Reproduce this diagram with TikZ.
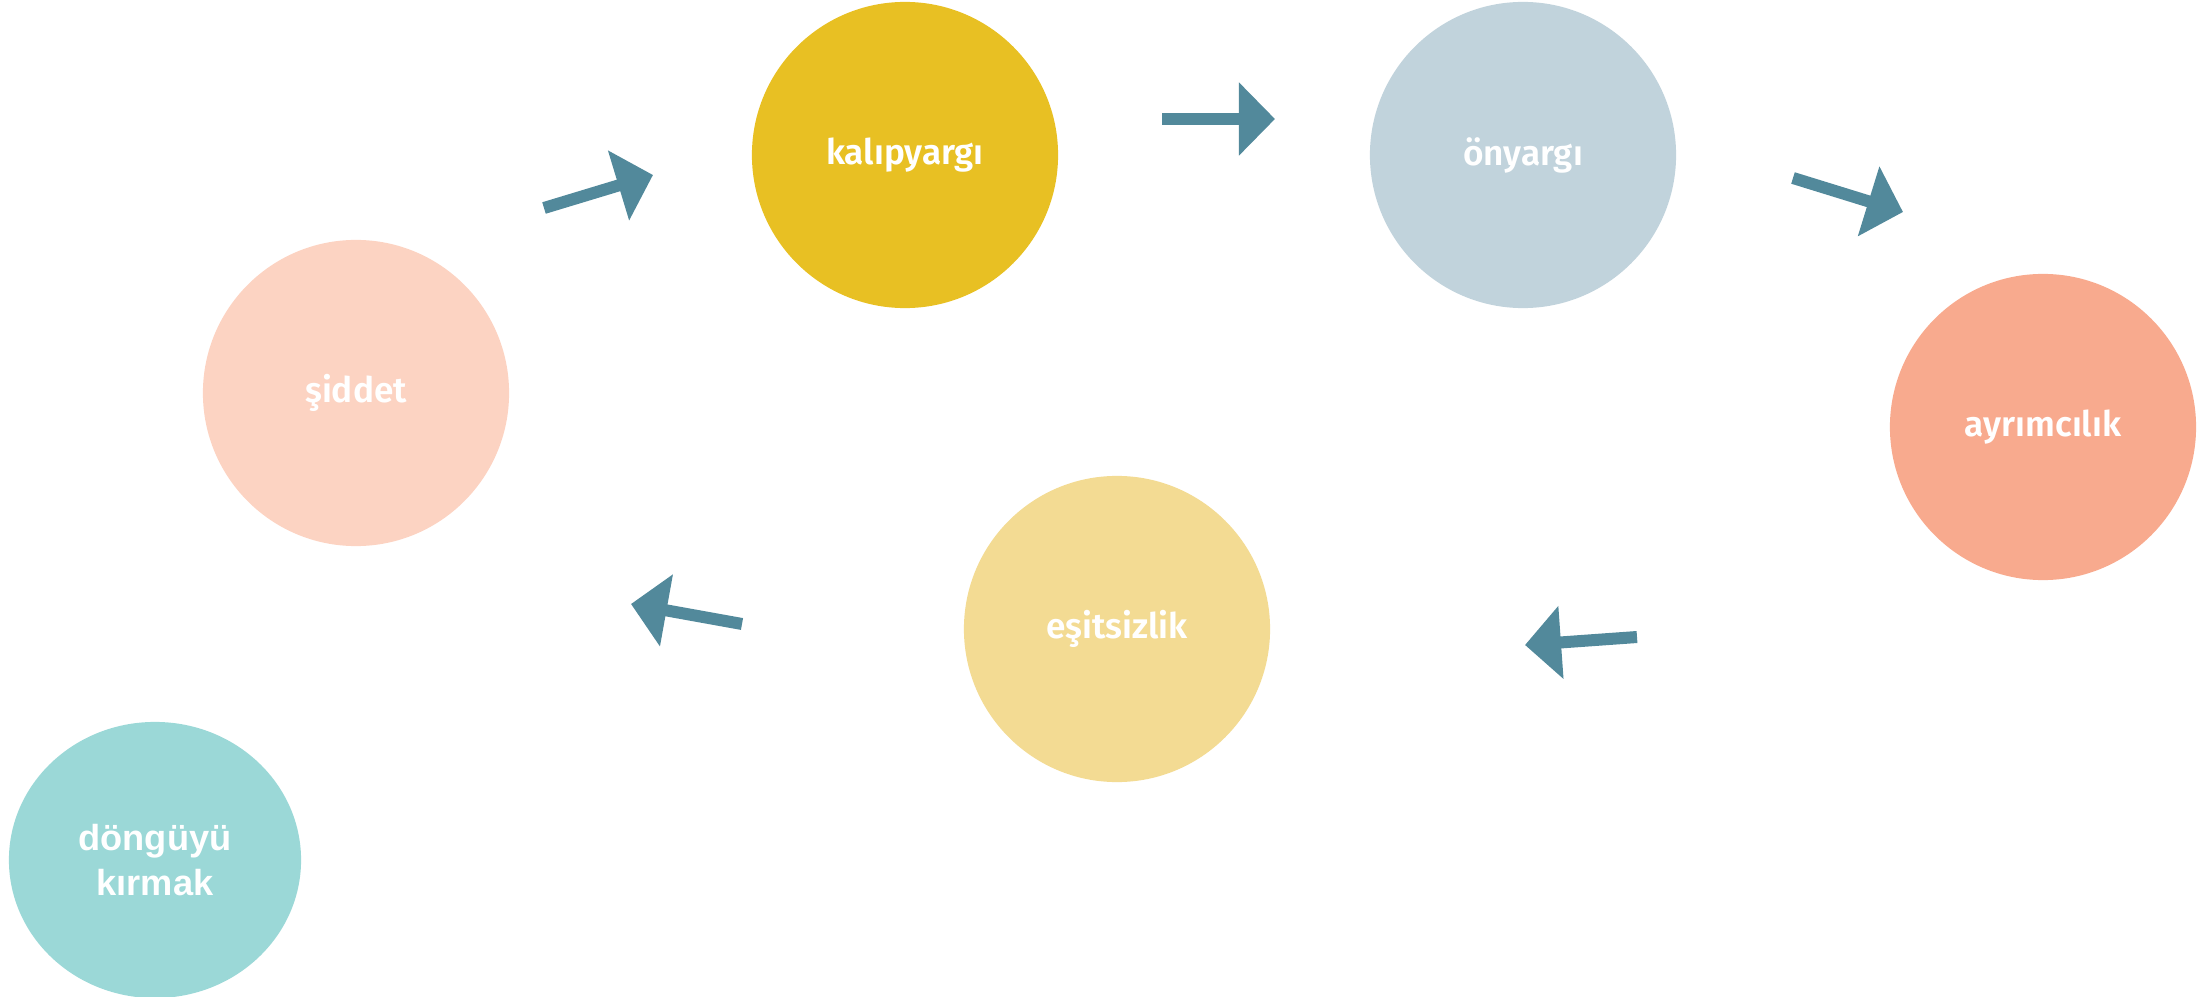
\documentclass[tikz,border=0pt]{standalone}
\usepackage{fontspec}
\usepackage{tikz}
\usetikzlibrary{arrows.meta,shapes.geometric}
\newfontfamily\cyclefont{Fira Sans}[BoldFont={Fira Sans SemiBold}]
\newfontfamily\breakfont{Liberation Sans}

\definecolor{kalipcol}{HTML}{E8C023}
\definecolor{onyargicol}{HTML}{C1D3DC}
\definecolor{siddetcol}{HTML}{FCD3C2}
\definecolor{ayrimcol}{HTML}{F8AA8E}
\definecolor{esitcol}{HTML}{F3DB93}
\definecolor{dongucol}{HTML}{9BD8D7}
\definecolor{arrowcol}{HTML}{52899B}

\tikzset{
	stage/.style={circle, fill=#1, minimum size=3.06cm, inner sep=0pt, text=white,
		font=\cyclefont\bfseries\fontsize{10}{12}\selectfont},
}

\begin{document}
\begin{tikzpicture}[x=0.01cm, y=-0.01cm]

\useasboundingbox (0,0) rectangle (2208,997);

\begin{scope}
	\node[stage=kalipcol] (K) at (905,155) {kalıpyargı};
	\node[stage=onyargicol] (O) at (1523,155) {önyargı};
	\node[stage=siddetcol] (S) at (356,393) {şiddet};
	\node[stage=ayrimcol] (A) at (2043,427) {ayrımcılık};
	\node[stage=esitcol] (E) at (1117,629) {eşitsizlik};
	
	\node[ellipse, fill=dongucol, minimum width=2.92cm, minimum height=2.76cm, inner sep=0pt,
		text=white, align=center, font=\breakfont\bfseries\fontsize{10.3}{12.8}\selectfont]
		(D) at (155,860) {döngüyü\\kırmak};
	
	\coordinate (SK1) at (544,208);
	\coordinate (SK2) at (653,175);
	\coordinate (KO1) at (1162,119);
	\coordinate (KO2) at (1275,119);
	\coordinate (OA1) at (1793,178);
	\coordinate (OA2) at (1903,212);
	\coordinate (AE1) at (1637,637);
	\coordinate (AE2) at (1525,645);
	\coordinate (ES1) at (742,624);
	\coordinate (ES2) at (631,604);
\end{scope}

\begin{scope}[>={Triangle[length=0.36cm, width=0.71cm]},
	every edge/.style={draw=arrowcol, line width=0.12cm}]

	\path [->] (SK1) edge (SK2);
	\path [->] (KO1) edge (KO2);
	\path [->] (OA1) edge (OA2);
	\path [->] (AE1) edge (AE2);
	\path [->] (ES1) edge (ES2);

\end{scope}

\end{tikzpicture}
\end{document}
